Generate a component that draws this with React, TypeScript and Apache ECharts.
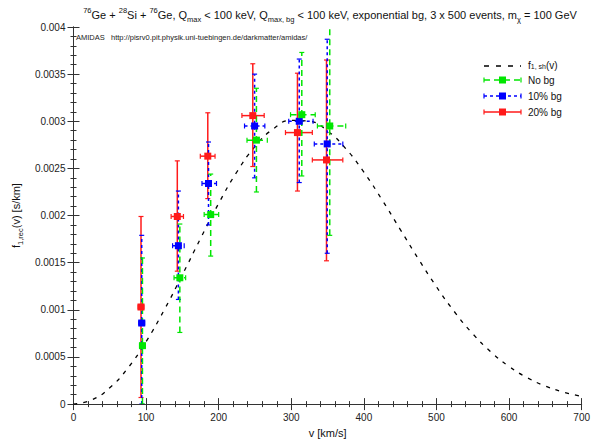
import React, { useEffect, useRef } from "react";
import * as echarts from "echarts";

// theoretical shifted Maxwellian
const V_CURVE = [0, 25, 50, 75, 100, 125, 150, 175, 200, 225, 250, 275, 300, 325, 350, 375, 400, 425, 450, 475, 500, 525, 550, 575, 600, 625, 650, 675, 700];
const F_CURVE = [0, 0.0000438, 0.0001735, 0.0003833, 0.0006632, 0.0009991, 0.0013712, 0.0017566, 0.0021289, 0.0024621, 0.0027316, 0.0029179, 0.0030088, 0.0030, 0.0028963, 0.0027103, 0.0024603, 0.0021675, 0.0018542, 0.0015412, 0.0012445, 0.0009771, 0.0007458, 0.0005536, 0.0003997, 0.0002807, 0.0001919, 0.0001276, 0.0000825];

// No bg
const V_NOBG = [95, 146.5, 189, 252, 314.5, 353];
const V_NOBG_LO = [91, 138.5, 180, 239, 299, 336];
const V_NOBG_HI = [99, 154.5, 200, 267, 333, 375];
const F_NOBG = [0.00062, 0.00134, 0.00201, 0.0028, 0.00307, 0.00295];
const F_NOBG_LO = [0, 0.00076, 0.00157, 0.00225, 0.00242, 0.00179];
const F_NOBG_HI = [0.00155, 0.00191, 0.00244, 0.00335, 0.00373, 0.0041];

// 10% bg
const V_10 = [94, 144.5, 186, 249.5, 311, 349.5];
const V_10_LO = [90, 136.5, 177, 235.6, 296.5, 331.7];
const V_10_HI = [98, 152.5, 197, 263.6, 330, 371];
const F_10 = [0.00086, 0.00168, 0.00234, 0.00295, 0.003, 0.00276];
const F_10_LO = [0, 0.00111, 0.0019, 0.0024, 0.00235, 0.0016];
const F_10_HI = [0.00179, 0.00226, 0.00278, 0.0035, 0.00366, 0.00387];

// 20% bg
const V_20 = [93, 143, 185, 247, 308.5, 348.5];
const V_20_LO = [89, 134.5, 174.7, 232, 292, 329];
const V_20_HI = [97, 151.5, 195, 262.7, 329, 371];
const F_20 = [0.00103, 0.00199, 0.00263, 0.00306, 0.00288, 0.00259];
const F_20_LO = [0.00007, 0.00141, 0.00218, 0.00252, 0.00226, 0.00152];
const F_20_HI = [0.00199, 0.00258, 0.00309, 0.00361, 0.00351, 0.00365];

const X_MIN = 0, X_MAX = 700, X_STEP = 100;
const Y_MIN = 0, Y_MAX = 0.004, Y_STEP = 0.0005;

const GREEN = "#00e600";
const BLUE = "#0000ff";
const RED = "#ff1a1a";
const FONT = "Liberation Sans";

function rows(v: number[], vl: number[], vh: number[], f: number[], fl: number[], fh: number[]) {
  return v.map((x, i) => [x, f[i], vl[i], vh[i], fl[i], fh[i]]);
}

function errRender(color: string, dash: number[] | null) {
  return (params: any, api: any) => {
    const x = api.value(0), y = api.value(1);
    const xl = api.value(2), xh = api.value(3), yl = api.value(4), yh = api.value(5);
    const pl = api.coord([x, yl]);
    const ph = api.coord([x, yh]);
    const ql = api.coord([xl, y]);
    const qh = api.coord([xh, y]);
    const cap = 2.5;
    const style: any = { stroke: color, lineWidth: 1.5, fill: null };
    if (dash) style.lineDash = dash;
    const capStyle: any = { stroke: color, lineWidth: 1.2 };
    return {
      type: "group",
      children: [
        { type: "line", shape: { x1: pl[0], y1: pl[1], x2: ph[0], y2: ph[1] }, style },
        { type: "line", shape: { x1: ql[0], y1: ql[1], x2: qh[0], y2: qh[1] }, style },
        { type: "line", shape: { x1: pl[0] - cap, y1: pl[1], x2: pl[0] + cap, y2: pl[1] }, style: capStyle },
        { type: "line", shape: { x1: ph[0] - cap, y1: ph[1], x2: ph[0] + cap, y2: ph[1] }, style: capStyle },
        { type: "line", shape: { x1: ql[0], y1: ql[1] - cap, x2: ql[0], y2: ql[1] + cap }, style: capStyle },
        { type: "line", shape: { x1: qh[0], y1: qh[1] - cap, x2: qh[0], y2: qh[1] + cap }, style: capStyle },
      ],
    };
  };
}

function legendItem(y: number, color: string, dash: number[] | null, label: string) {
  const style: any = { stroke: color, lineWidth: 1.5 };
  if (dash) style.lineDash = dash;
  return [
    { type: "line", shape: { x1: 484, y1: y, x2: 521, y2: y }, style },
    { type: "line", shape: { x1: 484, y1: y - 2.5, x2: 484, y2: y + 2.5 }, style: { stroke: color, lineWidth: 1.2 } },
    { type: "line", shape: { x1: 521, y1: y - 2.5, x2: 521, y2: y + 2.5 }, style: { stroke: color, lineWidth: 1.2 } },
    { type: "rect", shape: { x: 499, y: y - 3.5, width: 7, height: 7 }, style: { fill: color } },
    { type: "text", x: 528, y: y, style: { text: label, fontFamily: FONT, fontSize: 10, fill: "#111", verticalAlign: "middle" } },
  ];
}

export default function App() {
  const ref = useRef<HTMLDivElement>(null);
  useEffect(() => {
    if (!ref.current) return;
    const chart = echarts.init(ref.current, null, { renderer: "svg" });
    const axisCommon: any = {
      type: "value",
      axisLine: { show: true, lineStyle: { color: "#333", width: 1 } },
      axisTick: { show: true, inside: true, length: 6, lineStyle: { color: "#333" } },
      minorTick: { show: true, splitNumber: 5, length: 3, lineStyle: { color: "#333" } },
      splitLine: { show: false },
    };
    const labelStyle = { color: "#222", fontFamily: FONT, fontSize: 10 };
    const option: any = {
      animation: false,
      backgroundColor: "#fff",
      title: {
        text: "{sup|76}Ge + {sup|28}Si + {sup|76}Ge, Q{sub|max} < 100 keV, Q{sub|max, bg} < 100 keV, exponential bg, 3 x 500 events, m{sub|χ} = 100 GeV",
        left: 325,
        textAlign: "center",
        top: 1,
        textStyle: {
          fontFamily: FONT,
          fontSize: 11,
          fontWeight: "normal",
          color: "#111",
          lineHeight: 17,
          rich: {
            sup: { fontSize: 7.5, fontFamily: FONT, verticalAlign: "top", color: "#111", lineHeight: 9 },
            sub: { fontSize: 7.5, fontFamily: FONT, verticalAlign: "bottom", color: "#111", lineHeight: 9 },
          },
        },
      },
      grid: { left: 66, right: 10, top: 27, bottom: 29, containLabel: false },
      xAxis: [
        {
          ...axisCommon,
          min: X_MIN, max: X_MAX, interval: X_STEP,
          position: "bottom",
          axisLabel: { ...labelStyle, margin: 8 },
          name: "v [km/s]",
          nameLocation: "middle",
          nameGap: 18,
          nameTextStyle: { fontFamily: FONT, fontSize: 11, color: "#111" },
        },
        {
          ...axisCommon,
          min: X_MIN, max: X_MAX, interval: X_STEP,
          position: "top",
          axisLabel: { show: false },
        },
      ],
      yAxis: [
        {
          ...axisCommon,
          min: Y_MIN, max: Y_MAX, interval: Y_STEP,
          position: "left",
          axisLabel: { ...labelStyle, margin: 8, formatter: (v: number) => String(+v.toFixed(4)) },
          name: "f{sub|1,rec}(v) [s/km]",
          nameLocation: "middle",
          nameGap: 38,
          nameTextStyle: {
            fontFamily: FONT, fontSize: 11, color: "#111", lineHeight: 16,
            rich: { sub: { fontSize: 7.5, fontFamily: FONT, verticalAlign: "bottom", color: "#111", lineHeight: 8 } },
          },
        },
        {
          ...axisCommon,
          min: Y_MIN, max: Y_MAX, interval: Y_STEP,
          position: "right",
          axisLabel: { show: false },
        },
      ],
      graphic: [
        {
          type: "text", x: 76, y: 37,
          style: { text: "AMIDAS   http://pisrv0.pit.physik.uni-tuebingen.de/darkmatter/amidas/", fontFamily: FONT, fontSize: 7.5, fill: "#222", verticalAlign: "middle" },
        },
        { type: "line", shape: { x1: 484, y1: 66, x2: 521, y2: 66 }, style: { stroke: "#000", lineWidth: 1.3, lineDash: [5, 7] } },
        {
          type: "text", x: 528, y: 65,
          style: {
            text: "f{sub|1, sh}(v)", fontFamily: FONT, fontSize: 10, fill: "#111", verticalAlign: "middle",
            rich: { sub: { fontSize: 7, fontFamily: FONT, verticalAlign: "bottom", fill: "#111" } },
          },
        },
        ...legendItem(80, GREEN, [6, 4], "No bg"),
        ...legendItem(96, BLUE, [3, 3], "10% bg"),
        ...legendItem(112, RED, null, "20% bg"),
      ],
      series: [
        {
          type: "line",
          name: "f1,sh(v)",
          data: V_CURVE.map((v, i) => [v, F_CURVE[i]]),
          smooth: true,
          showSymbol: false,
          symbol: "none",
          lineStyle: { color: "#000", width: 1.3, type: [4, 6] },
          z: 1,
        },
        {
          type: "custom", name: "20% bg err", clip: true,
          renderItem: errRender(RED, null),
          data: rows(V_20, V_20_LO, V_20_HI, F_20, F_20_LO, F_20_HI),
          encode: { x: 0, y: 1 }, z: 2,
        },
        {
          type: "custom", name: "10% bg err", clip: true,
          renderItem: errRender(BLUE, [3, 3]),
          data: rows(V_10, V_10_LO, V_10_HI, F_10, F_10_LO, F_10_HI),
          encode: { x: 0, y: 1 }, z: 3,
        },
        {
          type: "custom", name: "No bg err", clip: true,
          renderItem: errRender(GREEN, [6, 4]),
          data: rows(V_NOBG, V_NOBG_LO, V_NOBG_HI, F_NOBG, F_NOBG_LO, F_NOBG_HI),
          encode: { x: 0, y: 1 }, z: 4,
        },
        {
          type: "scatter", name: "20% bg", symbol: "rect", symbolSize: 7,
          itemStyle: { color: RED, opacity: 1 },
          data: V_20.map((v, i) => [v, F_20[i]]), z: 5,
        },
        {
          type: "scatter", name: "10% bg", symbol: "rect", symbolSize: 7,
          itemStyle: { color: BLUE, opacity: 1 },
          data: V_10.map((v, i) => [v, F_10[i]]), z: 5,
        },
        {
          type: "scatter", name: "No bg", symbol: "rect", symbolSize: 7,
          itemStyle: { color: GREEN, opacity: 1 },
          data: V_NOBG.map((v, i) => [v, F_NOBG[i]]), z: 5,
        },
      ],
    };
    chart.setOption(option);
    return () => chart.dispose();
  }, []);
  return <div ref={ref} style={{ position: "absolute", left: 0, top: 0, width: 593, height: 443, background: "#fff" }} />;
}
